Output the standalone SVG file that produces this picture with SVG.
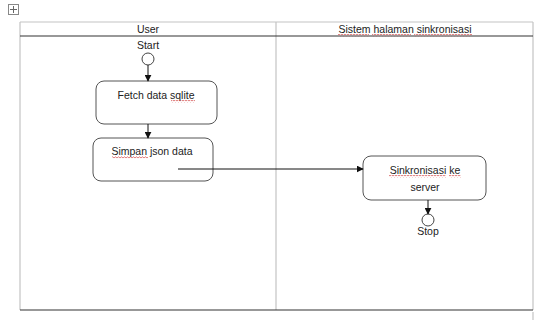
<svg xmlns="http://www.w3.org/2000/svg" width="541" height="320" viewBox="0 0 541 320">
  <style>
    .lbl { font-family: "Liberation Sans", Arial, sans-serif; font-size: 10.5px; fill: #222; text-anchor: middle; }
    .grid { stroke: #c4c4c4; stroke-width: 1.2; fill: none; }
    .rule { stroke: #333; stroke-width: 1.2; fill: none; }
    .box { fill: #fff; stroke: #555; stroke-width: 1; }
    .dot { fill: #fff; stroke: #444; stroke-width: 1; }
    .flow { stroke: #111; stroke-width: 1; fill: none; marker-end: url(#head); }
    .squig { stroke: #d04040; stroke-width: 0.7; fill: none; }
  </style>
  <defs>
    <marker id="head" viewBox="0 0 10 10" refX="9" refY="5" markerWidth="7" markerHeight="7" orient="auto" markerUnits="userSpaceOnUse">
      <path d="M0,0 L10,5 L0,10 z" fill="#111"/>
    </marker>
    <!-- spell-check wave, 2px period, repeated by width -->
    <pattern id="wave" width="3" height="3" patternUnits="userSpaceOnUse">
      <path d="M0,2 L1.5,0.8 L3,2" stroke="#d04040" stroke-width="0.7" fill="none"/>
    </pattern>
  </defs>
  <rect width="541" height="320" fill="#fff"/>

  <!-- table move handle -->
  <g id="handle">
    <rect x="8.5" y="4.5" width="10" height="10" fill="#fff" stroke="#888" stroke-width="1"/>
    <path d="M13.5,6 V13 M10,9.5 H17" stroke="#666" stroke-width="1"/>
  </g>

  <!-- swimlane table -->
  <g id="lanes">
    <path class="grid" d="M20,22 H533 M20,22 V310 M276,22 V310 M533,22 V310"/>
    <path class="rule" d="M20,36 H533 M20,310 H533"/>
    <path class="grid" d="M533,312 V320" stroke-width="1"/>
    <text class="lbl" x="405" y="33">Sistem halaman sinkronisasi</text>
    <text class="lbl" x="148" y="33">User</text>
    <rect x="338" y="34" width="31" height="2.5" fill="url(#wave)"/>
    <rect x="372" y="34" width="39" height="2.5" fill="url(#wave)"/>
    <rect x="414" y="34" width="58" height="2.5" fill="url(#wave)"/>
  </g>

  <g id="start">
    <text class="lbl" x="148" y="49">Start</text>
    <circle class="dot" cx="148" cy="59" r="6"/>
  </g>

  <g id="fetch">
    <rect class="box" x="96" y="81" width="121" height="43" rx="8"/>
    <text class="lbl" x="156" y="99">Fetch data sqlite</text>
    <rect x="171" y="100" width="24" height="2.5" fill="url(#wave)"/>
  </g>

  <g id="simpan">
    <rect class="box" x="93" y="138" width="120" height="43" rx="8"/>
    <text class="lbl" x="152" y="155">Simpan json data</text>
    <rect x="112" y="156" width="36" height="2.5" fill="url(#wave)"/>
  </g>

  <g id="sinkron">
    <rect class="box" x="363" y="156" width="123" height="44" rx="8"/>
    <text class="lbl" x="425" y="174">Sinkronisasi ke</text>
    <text class="lbl" x="425" y="191">server</text>
    <rect x="389" y="175" width="57" height="2.5" fill="url(#wave)"/>
    <rect x="449" y="175" width="12" height="2.5" fill="url(#wave)"/>
  </g>

  <g id="stop">
    <circle class="dot" cx="428" cy="220" r="6"/>
    <text class="lbl" x="428" y="235">Stop</text>
  </g>

  <!-- connectors -->
  <g id="connectors">
    <path class="flow" d="M148,65 V81"/>
    <path class="flow" d="M148,124 V138"/>
    <path class="flow" d="M178,169 H363"/>
    <path class="flow" d="M428,200 V214"/>
  </g>
</svg>
